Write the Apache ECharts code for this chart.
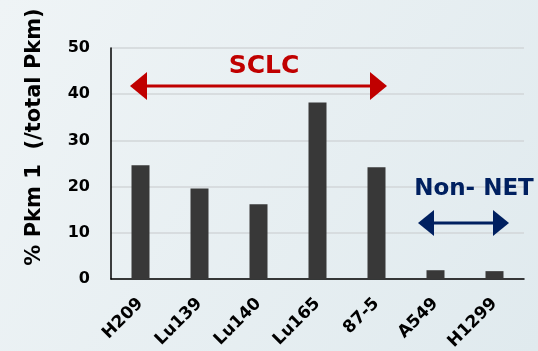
<!DOCTYPE html>
<html>
<head>
<meta charset="utf-8">
<script src="https://cdn.jsdelivr.net/npm/echarts@6/dist/echarts.min.js"></script>
<style>
  html, body { margin: 0; padding: 0; }
  #chart { width: 538px; height: 351px; }
</style>
</head>
<body>
<div id="chart"></div>
<script>
var cellLines = ['H209', 'Lu139', 'Lu140', 'Lu165', '87-5', 'A549', 'H1299'];
var pkm1Share = [24.6, 19.6, 16.2, 38.2, 24.2, 1.9, 1.7];
var yTicks = [0, 10, 20, 30, 40, 50];

var myChart = echarts.init(document.getElementById('chart'));

var option = {
    backgroundColor: {
        type: 'linear', x: 0, y: 0, x2: 1, y2: 1,
        colorStops: [
            { offset: 0, color: '#eff4f6' },
            { offset: 1, color: '#e0eaee' }
        ]
    },
    animation: false,
    grid: { left: 111, right: 14, top: 48, bottom: 72, outerBoundsMode: 'none' },
    xAxis: {
        type: 'category',
        data: cellLines,
        axisLine: { lineStyle: { color: '#000', width: 1.5 } },
        axisTick: { show: false },
        axisLabel: {
            rotate: 45,
            margin: 22,
            color: '#000',
            fontFamily: 'DejaVu Sans',
            fontWeight: 'bold',
            fontSize: 17
        }
    },
    yAxis: {
        type: 'value',
        min: yTicks[0],
        max: yTicks[yTicks.length - 1],
        interval: 10,
        axisLine: { show: true, lineStyle: { color: '#000', width: 1.5 } },
        axisTick: { show: false },
        splitLine: { lineStyle: { color: '#d2d6d8', width: 1.5 } },
        axisLabel: {
            margin: 21,
            color: '#000',
            fontFamily: 'DejaVu Sans',
            fontWeight: 'bold',
            fontSize: 16
        }
    },
    series: [{
        type: 'bar',
        data: pkm1Share,
        barWidth: 18,
        itemStyle: { color: '#383838' }
    }],
    graphic: [
        {
            type: 'text',
            z: 100,
            x: 35, y: 137,
            rotation: Math.PI / 2,
            style: {
                text: '% Pkm 1  (/total Pkm)',
                fill: '#000',
                fontFamily: 'DejaVu Sans',
                fontWeight: 'bold',
                fontSize: 21,
                align: 'center',
                verticalAlign: 'middle'
            }
        },
        {
            type: 'text',
            z: 100,
            x: 264, y: 66,
            style: {
                text: 'SCLC',
                fill: '#c00000',
                fontFamily: 'DejaVu Sans',
                fontWeight: 'bold',
                fontSize: 25,
                align: 'center',
                verticalAlign: 'middle'
            }
        },
        {
            type: 'line',
            z: 100,
            shape: { x1: 142, y1: 86, x2: 375, y2: 86 },
            style: { stroke: '#c00000', lineWidth: 3 }
        },
        {
            type: 'polygon',
            z: 100,
            shape: { points: [[130, 86], [147, 72], [147, 100]] },
            style: { fill: '#c00000' }
        },
        {
            type: 'polygon',
            z: 100,
            shape: { points: [[387, 86], [370, 72], [370, 100]] },
            style: { fill: '#c00000' }
        },
        {
            type: 'text',
            z: 100,
            x: 474, y: 189,
            style: {
                text: 'Non- NET',
                fill: '#002060',
                fontFamily: 'DejaVu Sans',
                fontWeight: 'bold',
                fontSize: 23,
                align: 'center',
                verticalAlign: 'middle'
            }
        },
        {
            type: 'line',
            z: 100,
            shape: { x1: 428, y1: 223, x2: 499, y2: 223 },
            style: { stroke: '#002060', lineWidth: 3 }
        },
        {
            type: 'polygon',
            z: 100,
            shape: { points: [[418, 223], [434, 210], [434, 236]] },
            style: { fill: '#002060' }
        },
        {
            type: 'polygon',
            z: 100,
            shape: { points: [[509, 223], [493, 210], [493, 236]] },
            style: { fill: '#002060' }
        }
    ]
};

myChart.setOption(option);
window.addEventListener('resize', function () {
    myChart.resize();
});
</script>
</body>
</html>
